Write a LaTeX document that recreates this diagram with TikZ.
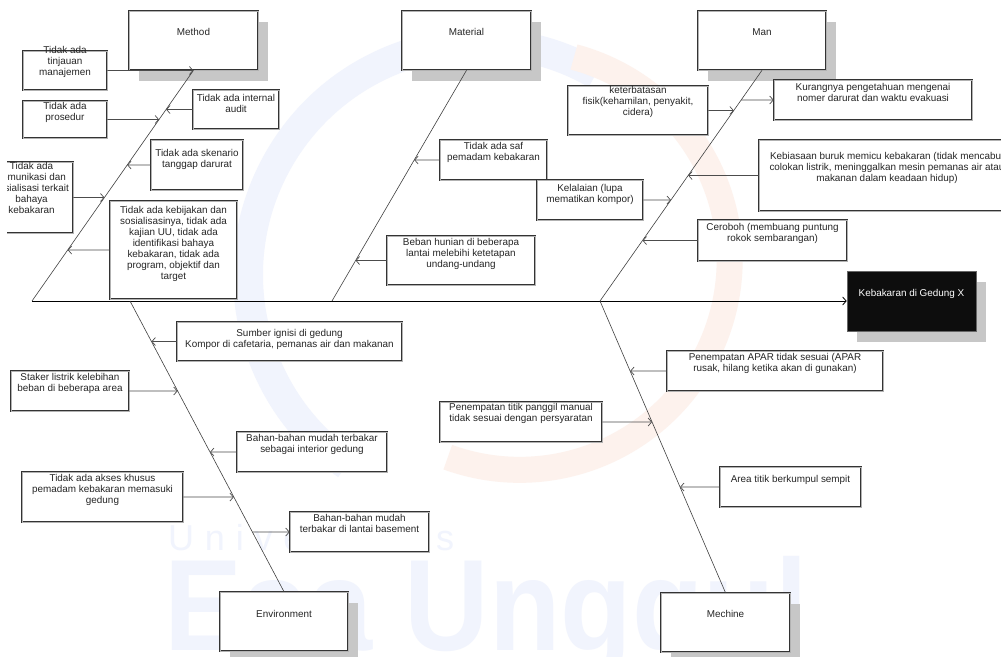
\documentclass[tikz,border=0pt]{standalone}
\usepackage{fontspec}
\setmainfont{Liberation Sans}
\newfontfamily\wmfont[LetterSpace=30]{Liberation Sans}
\usetikzlibrary{arrows.meta,shadows}
\definecolor{wmblue}{RGB}{241,244,253}
\definecolor{wmorange}{RGB}{253,242,237}
\newcommand\causebox[7]{%
  \node[cbox, minimum width={(#4-#2)*1pt}, minimum height={(#5-#3)*1pt}] (#1) at ({(#2+#4)/2},{(#3+#5)/2}) {};
  \node[ctext, anchor=north] (#1t) at ({(#2+#4)/2},{#6-4.5}) {#7};}
\newcommand\catnode[7]{%
  \node[catbox, minimum width={(#4-#2)*1pt}, minimum height={(#5-#3)*1pt}] (#1) at ({(#2+#4)/2},{(#3+#5)/2}) {};
  \node[ctext, anchor=north] (#1t) at ({(#2+#4)/2},{#6-4.5}) {#7};}
\begin{document}
\begin{tikzpicture}[x=1pt,y=-1pt,
  cbox/.style={draw=black!80, line width=0.6pt, double=black!30, double distance=0.9pt, fill=white, inner sep=0pt},
  catbox/.style={cbox, drop shadow={shadow xshift=10pt, shadow yshift=-11pt, fill=black!22, opacity=1}},
  resbox/.style={draw=black!60, line width=0.6pt, fill=black!95, inner sep=0pt, drop shadow={shadow xshift=10pt, shadow yshift=-11pt, fill=black!22, opacity=1}},
  ctext/.style={font=\fontsize{9.9}{11}\selectfont, align=center, inner sep=0pt, text=black!85},
  bone/.style={draw=black!75, line width=0.6pt},
  spine/.style={draw=black, line width=0.8pt, -{Straight Barb[length=3.5pt,width=8pt]}},
  link/.style={draw=black!70, line width=0.7pt, -{Straight Barb[length=3.5pt,width=8pt]}},
]
\useasboundingbox (0,0) rectangle (1001,656);
\clip (0,0) rectangle (1001,656);
\fill[white] (0,0) rectangle (1001,656);

% watermark
\draw[wmblue, line width=30pt] (596,74) arc[start angle=-60, end angle=-235, radius=232];
\draw[wmorange, line width=26pt] (574,57) arc[start angle=-75, end angle=110, radius=210];
\node[font=\wmfont\fontsize{36}{36}\selectfont, text=wmblue, anchor=base west, inner sep=0pt] (wm1) at (168,550) {Universitas};
\node[font=\bfseries\fontsize{130}{130}\selectfont, text=wmblue, anchor=base west, inner sep=0pt] (wm2) at (164,650) {\scalebox{0.9}[1]{Esa Unggul}};

% category boxes
\catnode{meth}{129}{11}{258}{70}{33}{Method}
\catnode{matl}{402}{11}{531}{70}{33}{Material}
\catnode{man}{698}{11}{826}{70}{33}{Man}
\catnode{env}{220}{592}{348}{651}{615}{Environment}
\catnode{mech}{661}{593}{790}{652}{615}{Mechine}
\node[resbox, minimum width=129pt, minimum height=60pt] (res) at (911.5,301) {};
\node[ctext, text=white, anchor=north] (rest) at (911.5,289.5) {Kebakaran di Gedung X};

% spine and bones
\coordinate (mB) at (32,301);
\coordinate (eB) at (130,301);
\coordinate (aB) at (332,301);
\coordinate (nB) at (600,301);
\draw[spine] (mB) -- (res.west);
\draw[bone] (mB) -- (meth.south);
\draw[bone] (aB) -- (matl.south);
\draw[bone] (nB) -- (man.south);
\draw[bone] (eB) -- (env.north);
\draw[bone] (nB) -- (mech.north);

% cause boxes
\causebox{c1}{23}{51}{107}{90}{51}{Tidak ada\\tinjauan\\manajemen}
\causebox{c2}{23}{101}{107}{138}{107}{Tidak ada\\prosedur}
\causebox{c3}{193}{90}{279}{129}{99}{Tidak ada internal\\audit}
\causebox{c4}{151}{140}{243}{190}{154}{Tidak ada skenario\\tanggap darurat}
\begin{scope}
  \clip (7,150) rectangle (80,240);
  \node[cbox, minimum width=83pt, minimum height=71pt] (c5) at (31.5,197.5) {};
  \node[ctext, anchor=north] (c5t) at (31.5,162.5) {Tidak ada\\komunikasi dan\\sosialisasi terkait\\bahaya\\kebakaran};
\end{scope}
\causebox{c6}{110}{201}{237}{299}{211}{Tidak ada kebijakan dan\\sosialisasinya, tidak ada\\kajian UU, tidak ada\\identifikasi bahaya\\kebakaran, tidak ada\\program, objektif dan\\target}
\causebox{c7}{440}{140}{547}{180}{147}{Tidak ada saf\\pemadam kebakaran}
\causebox{c8}{387}{236}{535}{285}{243}{Beban hunian di beberapa\\lantai melebihi ketetapan\\undang-undang}
\causebox{c9}{568}{86}{708}{135}{91}{keterbatasan\\fisik(kehamilan, penyakit,\\cidera)}
\causebox{c10}{774}{80}{972}{120}{88}{Kurangnya pengetahuan mengenai\\nomer darurat dan waktu evakuasi}
\node[cbox, minimum width=256pt, minimum height=71pt] (c11) at (887,175.5) {};
\node[ctext, anchor=north] (c11t) at (887,152.5) {Kebiasaan buruk memicu kebakaran (tidak mencabut\\colokan listrik, meninggalkan mesin pemanas air atau\\makanan dalam keadaan hidup)};
\causebox{c12}{537}{180}{643}{220}{189}{Kelalaian (lupa\\mematikan kompor)}
\causebox{c13}{698}{220}{847}{261}{228}{Ceroboh (membuang puntung\\rokok sembarangan)}
\causebox{c14}{177}{322}{402}{361}{334}{Sumber ignisi di gedung\\Kompor di cafetaria, pemanas air dan makanan}
\causebox{c15}{11}{371}{129}{411}{378}{Staker listrik kelebihan\\beban di beberapa area}
\causebox{c16}{237}{432}{387}{472}{439}{Bahan-bahan mudah terbakar\\sebagai interior gedung}
\causebox{c17}{22}{472}{183}{522}{479}{Tidak ada akses khusus\\pemadam kebakaran memasuki\\gedung}
\causebox{c18}{290}{512}{429}{552}{519}{Bahan-bahan mudah\\terbakar di lantai basement}
\causebox{c19}{667}{351}{883}{391}{358}{Penempatan APAR tidak sesuai (APAR\\rusak, hilang ketika akan di gunakan)}
\causebox{c20}{440}{402}{602}{442}{408}{Penempatan titik panggil manual\\tidak sesuai dengan persyaratan}
\causebox{c21}{720}{467}{861}{507}{480}{Area titik berkumpul sempit}

% links: Method
\draw[link] (c1.east) -- (intersection of mB--meth.south and c1.west--c1.east);
\draw[link] (c2.east) -- (intersection of mB--meth.south and c2.west--c2.east);
\draw[link] (c3.west) -- (intersection of mB--meth.south and c3.west--c3.east);
\draw[link] (c4.west) -- (intersection of mB--meth.south and c4.west--c4.east);
\draw[link] (c5.east) -- (intersection of mB--meth.south and c5.west--c5.east);
\draw[link] (c6.west) -- (intersection of mB--meth.south and c6.west--c6.east);
% Material
\draw[link] (c7.west) -- (intersection of aB--matl.south and c7.west--c7.east);
\draw[link] (c8.west) -- (intersection of aB--matl.south and c8.west--c8.east);
% Man
\draw[link] (c9.east) -- (intersection of nB--man.south and c9.west--c9.east);
\draw[link] (intersection of nB--man.south and c10.west--c10.east) -- (c10.west);
\draw[link] (c11.west) -- (intersection of nB--man.south and c11.west--c11.east);
\draw[link] (c12.east) -- (intersection of nB--man.south and c12.west--c12.east);
\draw[link] (c13.west) -- (intersection of nB--man.south and c13.west--c13.east);
% Environment
\draw[link] (c14.west) -- (intersection of eB--env.north and c14.west--c14.east);
\draw[link] (c15.east) -- (intersection of eB--env.north and c15.west--c15.east);
\draw[link] (c16.west) -- (intersection of eB--env.north and c16.west--c16.east);
\draw[link] (c17.east) -- (intersection of eB--env.north and c17.west--c17.east);
\draw[link] (intersection of eB--env.north and c18.west--c18.east) -- (c18.west);
% Mechine
\draw[link] (c19.west) -- (intersection of nB--mech.north and c19.west--c19.east);
\draw[link] (c20.east) -- (intersection of nB--mech.north and c20.west--c20.east);
\draw[link] (c21.west) -- (intersection of nB--mech.north and c21.west--c21.east);
\end{tikzpicture}
\end{document}
